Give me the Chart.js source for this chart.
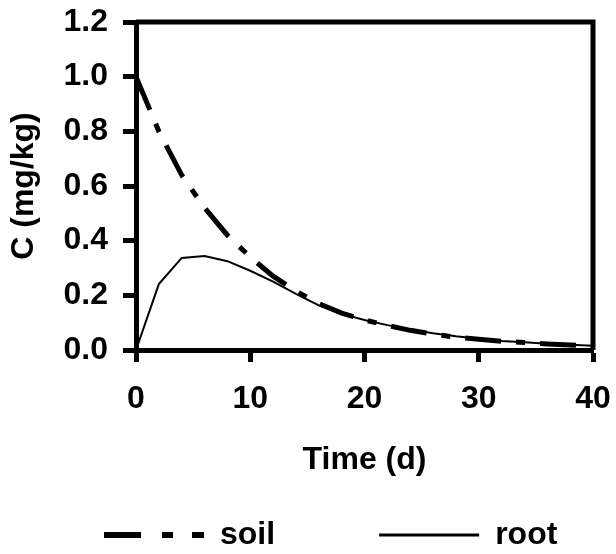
<!DOCTYPE html>
<html>
<head>
<meta charset="utf-8">
<title>Concentration in soil and root</title>
<script src="https://cdn.jsdelivr.net/npm/chart.js@4.4.1/dist/chart.umd.min.js"></script>
<style>
  html, body { margin: 0; padding: 0; background: #fff; }
</style>
</head>
<body>
<canvas id="concChart" width="616" height="554"></canvas>
<script>
// sampling days and concentrations
const days = [0, 2, 4, 6, 8, 10, 12, 14, 16, 18, 20, 22, 24, 26, 28, 30, 32, 34, 36, 38, 40];
const soil = [1.0, 0.80, 0.64, 0.52, 0.42, 0.34, 0.27, 0.215, 0.17, 0.135, 0.11, 0.09, 0.072, 0.058, 0.047, 0.039, 0.032, 0.027, 0.022, 0.018, 0.014];
const root = [0, 0.241, 0.337, 0.344, 0.325, 0.29, 0.25, 0.205, 0.163, 0.132, 0.11, 0.091, 0.075, 0.061, 0.05, 0.041, 0.033, 0.028, 0.023, 0.019, 0.016];
const xTicks = [0, 10, 20, 30, 40];
const yTicks = [0, 0.2, 0.4, 0.6, 0.8, 1.0, 1.2];

const font = { family: "'Liberation Sans', Arial, sans-serif", size: 32, weight: 'bold' };

// top and right edge of the plot box
const boxFrame = {
  id: 'boxFrame',
  afterDatasetsDraw(chart) {
    const { ctx, chartArea: a } = chart;
    ctx.save();
    ctx.strokeStyle = '#000';
    ctx.lineWidth = 5;
    ctx.beginPath();
    ctx.moveTo(a.left, a.top);
    ctx.lineTo(a.right, a.top);
    ctx.lineTo(a.right, a.bottom);
    ctx.stroke();
    ctx.restore();
  }
};

const ctx = document.getElementById('concChart').getContext('2d');
new Chart(ctx, {
  type: 'line',
  data: {
    datasets: [
      {
        label: 'soil',
        data: days.map((d, i) => ({ x: d, y: soil[i] })),
        borderColor: '#000',
        borderWidth: 5,
        borderDash: [36, 15, 9, 15],
        pointRadius: 0,
        tension: 0
      },
      {
        label: 'root',
        data: days.map((d, i) => ({ x: d, y: root[i] })),
        borderColor: '#000',
        borderWidth: 2,
        pointRadius: 0,
        tension: 0
      }
    ]
  },
  options: {
    responsive: false,
    animation: false,
    // negative right padding lets the wide legend run past the plot edge
    layout: { padding: { left: 0, right: -60, top: 22, bottom: 0 } },
    scales: {
      x: {
        type: 'linear',
        min: 0,
        max: 40,
        afterBuildTicks: s => { s.ticks = xTicks.map(v => ({ value: v })); },
        afterFit: s => {
          s.height = 65;
          s.paddingLeft = 0;
          s.paddingRight = 23; // room for the "40" label
        },
        ticks: { color: '#000', font: font, padding: 18 },
        grid: { drawOnChartArea: false, drawTicks: true, tickLength: 12, tickWidth: 5, tickColor: '#000' },
        border: { display: true, color: '#000', width: 5 },
        title: { display: true, text: 'Time (d)', color: '#000', font: font, padding: { top: 0, bottom: -64 } }
      },
      y: {
        min: 0,
        max: 1.2,
        afterBuildTicks: s => { s.ticks = yTicks.map(v => ({ value: v })); },
        afterFit: s => {
          s.width = 136;
          s.paddingTop = 0;
          s.paddingBottom = 0;
        },
        ticks: { color: '#000', font: font, padding: 15, callback: v => v.toFixed(1) },
        grid: { drawOnChartArea: false, drawTicks: true, tickLength: 13, tickWidth: 5, tickColor: '#000' },
        border: { display: true, color: '#000', width: 5 },
        title: { display: true, text: 'C (mg/kg)', color: '#000', font: font, padding: { top: 5, bottom: 0 } }
      }
    },
    plugins: {
      legend: {
        position: 'bottom',
        align: 'start',
        maxHeight: 139,
        labels: {
          color: '#000',
          font: font,
          usePointStyle: true,
          pointStyle: 'line',
          pointStyleWidth: 100,
          padding: 104,
          generateLabels(chart) {
            const items = Chart.defaults.plugins.legend.labels.generateLabels(chart);
            // legend samples are heavier than the plot lines
            items[0].lineWidth = 6;
            items[0].lineDash = [37, 21, 11, 19];
            items[0].lineDashOffset = 0;
            items[1].lineWidth = 3;
            items[1].lineDash = [];
            return items;
          }
        }
      },
      tooltip: { enabled: false }
    }
  },
  plugins: [boxFrame]
});
</script>
</body>
</html>
